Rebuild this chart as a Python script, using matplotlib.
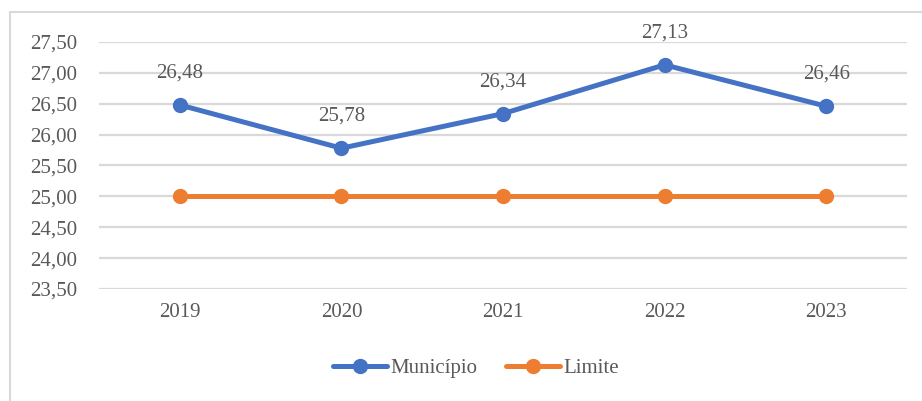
import matplotlib.pyplot as plt
from matplotlib.patches import Rectangle

# données
anos = ['2019', '2020', '2021', '2022', '2023']
municipio = [26.48, 25.78, 26.34, 27.13, 26.46]
limite = [25.00, 25.00, 25.00, 25.00, 25.00]
y_ticks = [23.5, 24.0, 24.5, 25.0, 25.5, 26.0, 26.5, 27.0, 27.5]

azul = '#4472C4'
laranja = '#ED7D31'
cinza = '#595959'

plt.rcParams['font.family'] = ['Liberation Serif', 'DejaVu Serif']

fig = plt.figure(figsize=(9.22, 4.01), dpi=100)
ax = fig.add_axes([99/922, 1 - 289/401, 808/922, 247/401])

# borda do gráfico
fig.patches.append(Rectangle((10/922, -0.05), 1.0, 1 - 12/401 + 0.05,
                             transform=fig.transFigure, fill=False,
                             edgecolor='#D9D9D9', linewidth=1.5))

x = list(range(len(anos)))
ax.plot(x, municipio, '-o', color=azul, lw=3.6, ms=10, label='Município',
        solid_capstyle='round', zorder=3)
ax.plot(x, limite, '-o', color=laranja, lw=3.6, ms=10, label='Limite',
        solid_capstyle='round', zorder=3)

for xi, v in zip(x, municipio):
    ax.annotate(f'{v:.2f}'.replace('.', ','), (xi, v), xytext=(0, 16),
                textcoords='offset points', ha='center', va='bottom',
                fontsize=15, color=cinza)

ax.set_xlim(-0.5, 4.5)
ax.set_ylim(23.5, 27.5)
ax.set_xticks(x)
ax.set_xticklabels(anos)
ax.set_yticks(y_ticks)
ax.set_yticklabels([f'{t:.2f}'.replace('.', ',') for t in y_ticks])
ax.tick_params(length=0, labelsize=15, colors=cinza)
ax.tick_params(axis='x', pad=10)
ax.tick_params(axis='y', pad=16)
ax.grid(axis='y', color='#D9D9D9', lw=1.6)
ax.set_axisbelow(True)
for s in ax.spines.values():
    s.set_visible(False)

leg = fig.legend(loc='center', bbox_to_anchor=(476/922, 1 - 368/401), ncol=2,
                 frameon=False, fontsize=15, handlelength=2.6, columnspacing=1.4,
                 handletextpad=0.15)
for t in leg.get_texts():
    t.set_color(cinza)

fig.savefig('out.png', dpi=100)
